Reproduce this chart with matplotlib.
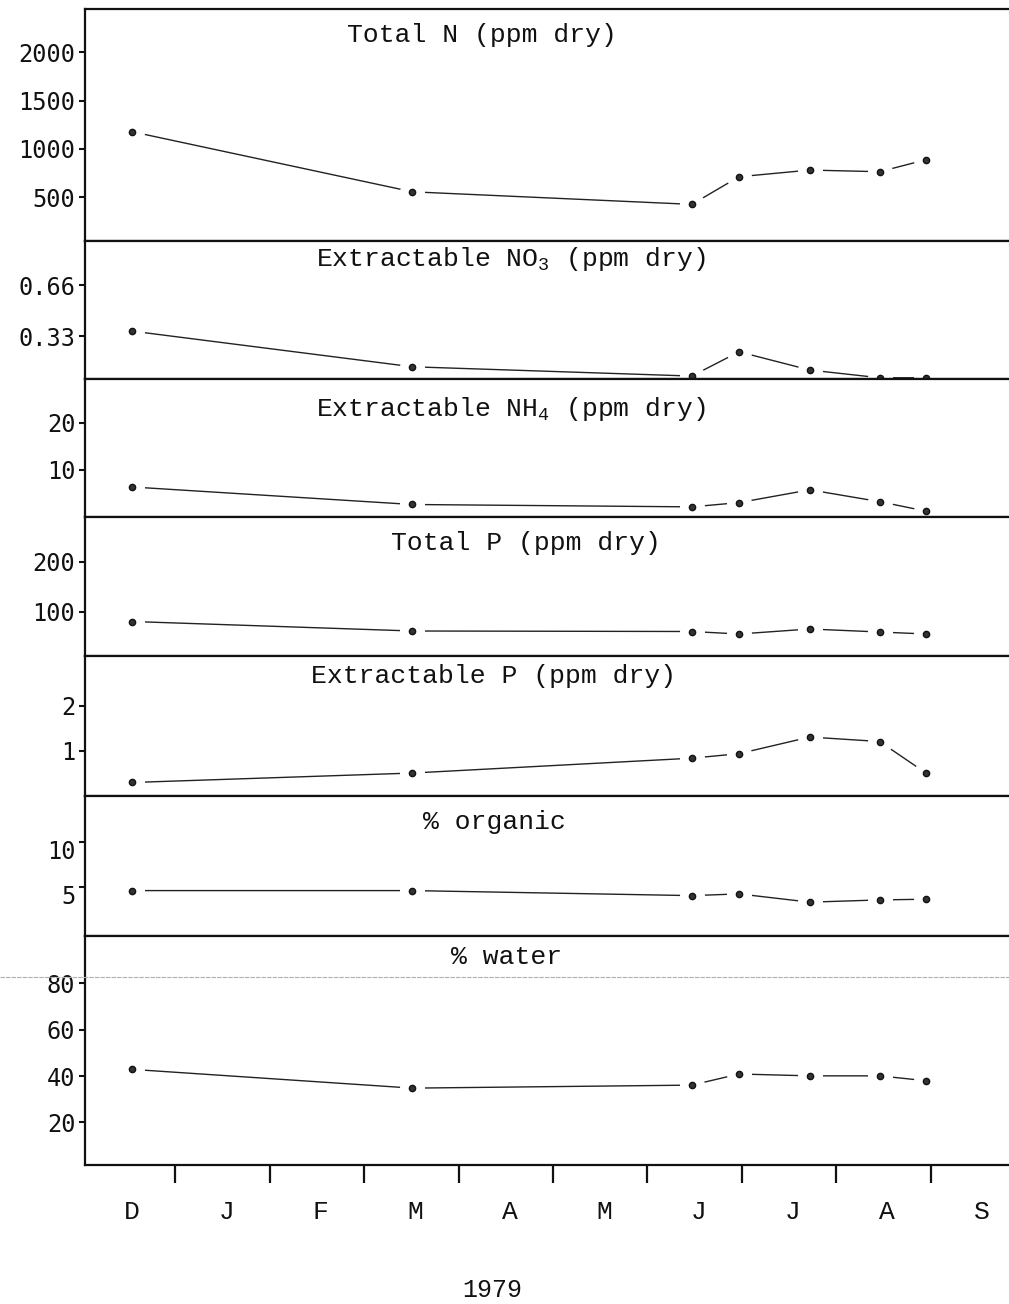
import matplotlib
matplotlib.use("Agg")
import matplotlib.pyplot as plt
from matplotlib.lines import Line2D
import matplotlib.transforms as mtrans

plt.rcParams['mathtext.fontset'] = 'custom'
plt.rcParams['mathtext.rm'] = 'Liberation Mono'
plt.rcParams['mathtext.it'] = 'Liberation Mono'

# ---------------- data ----------------
months = ["D", "J", "F", "M", "A", "M", "J", "J", "A", "S"]
year_label = "1979"
sample_x = [0.0, 2.97, 5.93, 6.43, 7.18, 7.92, 8.41]   # months since mid-Dec 1978

total_n = [1177, 555, 425, 711, 780, 763, 887]
no3 = [0.362, 0.131, 0.071, 0.228, 0.11, 0.06, 0.06]
nh4 = [6.4, 2.7, 2.2, 3.1, 5.8, 3.3, 1.3]
total_p = [80, 61, 60, 55, 65, 59, 55]
ext_p = [0.29, 0.5, 0.83, 0.93, 1.3, 1.2, 0.5]
organic = [4.56, 4.56, 4.0, 4.19, 3.27, 3.52, 3.6]
water = [42.9, 34.8, 36.1, 40.9, 40.1, 40.1, 38.0]

titles = ["Total N (ppm dry)",
          "Extractable NO$_3$ (ppm dry)",
          "Extractable NH$_4$ (ppm dry)",
          "Total P (ppm dry)",
          "Extractable P (ppm dry)",
          "% organic",
          "% water"]
series = [total_n, no3, nh4, total_p, ext_p, organic, water]
yticks = [[500, 1000, 1500, 2000], [0.33, 0.66], [10, 20], [100, 200],
          [1, 2], [5, 10], [20, 40, 60, 80]]
yticklabels = [["500", "1000", "1500", "2000"], ["0.33", "0.66"], ["10", "20"],
               ["100", "200"], ["1", "2"], ["5", "10"], ["20", "40", "60", "80"]]

# ---------------- layout (pixels) ----------------
W, H = 1009, 1304
panel_px = [(9, 240.7), (240.7, 379), (379, 517), (517, 656), (656, 796),
            (796, 936), (936, 1165)]
ylims = [(49, 2447), (0.052, 0.947), (0.06, 29.2), (11, 289), (-0.01, 3.1),
         (-0.5, 15.1), (1.6, 100.5)]
title_px = [(482, 35), (511, 259), (511, 409), (526, 543), (494, 676),
            (494, 822), (507, 957)]
xlim = (-0.498, 9.29)

fig = plt.figure(figsize=(W / 100, H / 100), dpi=100)
fig.patch.set_facecolor("white")

left = 85 / W
tick_font = dict(family="DejaVu Sans Mono", size=17)
type_font = ["Liberation Mono", "DejaVu Sans Mono"]

axes = []
for i, (top, bot) in enumerate(panel_px):
    ax = fig.add_axes([left, 1 - bot / H, 1 - left, (bot - top) / H])
    axes.append(ax)
    ax.set_xlim(*xlim)
    ax.set_ylim(*ylims[i])
    ax.spines["right"].set_visible(False)
    for s in ["left", "top", "bottom"]:
        ax.spines[s].set_linewidth(1.6)
        ax.spines[s].set_color("#111111")
    ax.set_yticks(yticks[i])
    ax.set_yticklabels(yticklabels[i], fontdict=tick_font)
    ax.tick_params(axis="y", direction="out", length=4, width=1.5, pad=3,
                   colors="#111111")
    ax.set_xticks([])
    # line with gaps around the points
    ax.plot(sample_x, series[i], color="#222222", lw=1.0, zorder=2)
    ax.plot(sample_x, series[i], ls="none", marker="o", ms=17,
            mfc="white", mec="white", zorder=2.1)
    ax.plot(sample_x, series[i], ls="none", marker="o", ms=4.5,
            mfc="#333333", mec="#111111", mew=1.0, zorder=2.2)
    tx, ty = title_px[i]
    fig.text(tx / W, 1 - ty / H, titles[i], ha="center", va="center",
             family=type_font, size=19, color="#111111")

# shift % organic tick labels slightly downward (typed below their ticks)
off = mtrans.ScaledTranslation(0, -8 / 100, fig.dpi_scale_trans)
for lab in axes[5].get_yticklabels():
    lab.set_transform(lab.get_transform() + off)

# bottom x axis: boundary ticks and month labels
axb = axes[-1]
axb.set_xticks([i + 0.46 for i in range(len(months) - 1)])
axb.set_xticklabels([])
axb.tick_params(axis="x", direction="out", length=13, width=1.6, colors="#111111")
axb.set_xticks(range(len(months)), minor=True)
axb.set_xticklabels(months, minor=True, family=type_font, size=19)
axb.tick_params(axis="x", which="minor", length=0, pad=25, colors="#111111")

fig.text(492 / W, 1 - 1290 / H, year_label, ha="center", va="center",
         family=type_font, size=18, color="#111111")

# faint scan line across the page
fig.add_artist(Line2D([0, 1], [1 - 977 / H, 1 - 977 / H], transform=fig.transFigure,
                      color="#b0b0b0", lw=0.8, ls=(0, (4, 1))))

fig.savefig("out.png", dpi=100, facecolor="white")
